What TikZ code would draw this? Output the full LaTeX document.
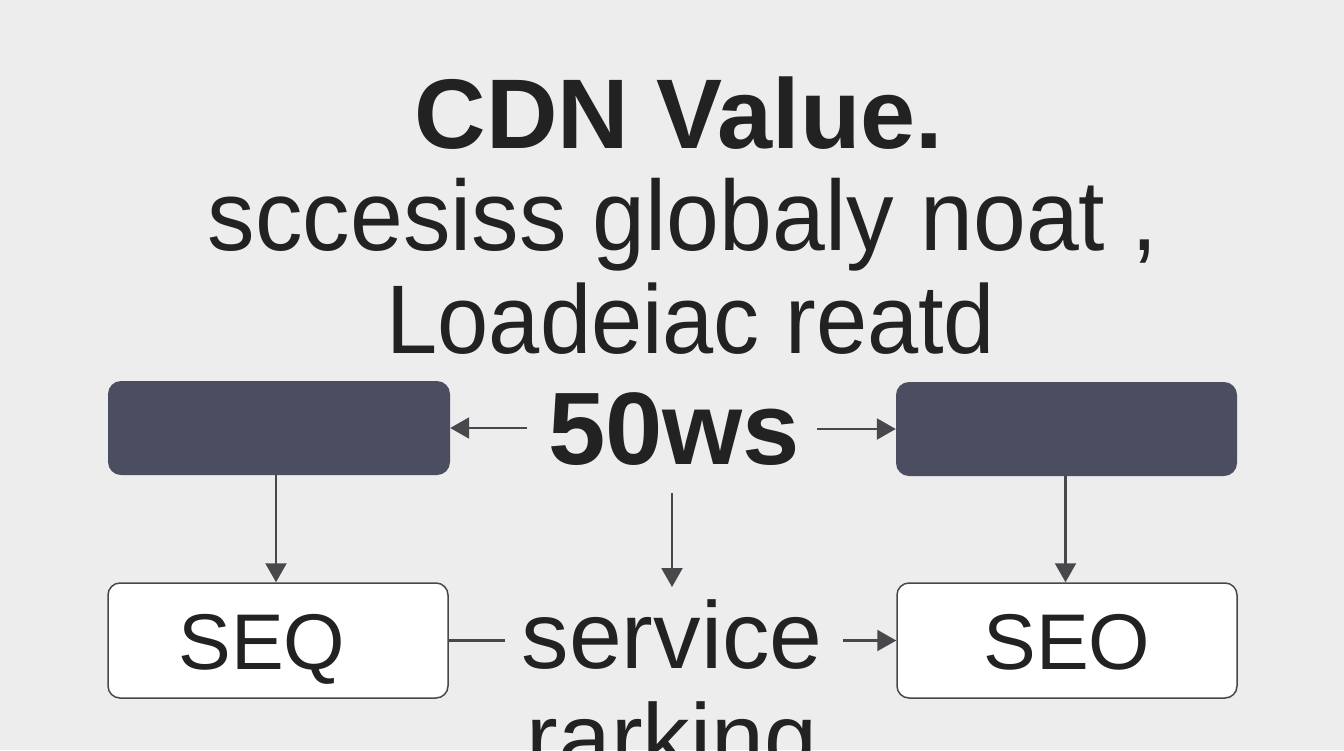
\documentclass[tikz,border=0pt]{standalone}
\usepackage{fontspec}
\setmainfont{Liberation Sans}
\usetikzlibrary{arrows.meta}
\definecolor{bg}{HTML}{EDEDED}
\definecolor{darkfill}{HTML}{4B4D61}
\definecolor{ink}{HTML}{222222}
\definecolor{linec}{HTML}{48484C}
\begin{document}
\begin{tikzpicture}[x=1pt,y=-1pt,
  txt/.style={inner sep=0pt, anchor=base, text=ink},
  darkbox/.style={draw=none, fill=darkfill, rounded corners=13pt, minimum width=342pt, minimum height=94pt, inner sep=0pt},
  wbox/.style={draw=linec, line width=1.5pt, fill=white, rounded corners=12pt, minimum width=340pt, minimum height=115pt, inner sep=0pt, text=ink, text height=57pt, text depth=0pt, font=\fontsize{79}{90}\selectfont},
  conn/.style={draw=linec, line width=2.2pt},
  arr/.style={conn, -{Triangle[length=19pt,width=21pt]}}
]
\fill[bg] (0,0) rectangle (1344,750);
\useasboundingbox (0,0) rectangle (1344,750);

% text lines
\node[txt, font=\bfseries\fontsize{99}{110}\selectfont] (title) at (679,148) {CDN Value.};
\node[txt, font=\fontsize{95}{110}\selectfont] (l2) at (683,250) {\scalebox{1}[1.05]{sccesiss globaly noat ,}};
\node[txt, font=\fontsize{92}{110}\selectfont] (l3) at (691,353) {\scalebox{1}[1.06]{Loadeiac reatd}};
\node[txt, font=\bfseries\fontsize{103}{110}\selectfont] (num) at (674,464) {50ws};
\node[txt, font=\fontsize{95}{110}\selectfont] (serv) at (672,668) {service};
\node[txt, font=\fontsize{95}{110}\selectfont] (rank) at (672,770) {rarking};

% boxes
\node[darkbox] (dl) at (279,428) {};
\node[darkbox, minimum width=341pt] (dr) at (1066.5,429) {};
\node[wbox] (sl) at (278,640.5) {\hspace*{-32pt}SEQ};
\node[wbox] (sr) at (1067,640.5) {SEO};

% free ends
\coordinate (cl) at (527,428);
\coordinate (cr) at (817,429);
\coordinate (mt) at (672,493);
\coordinate (mb) at (672,587);
\coordinate (bl) at (505,640.5);
\coordinate (br) at (843,640.5);

% connectors
\draw[arr] (cl) -- (dl.east);
\draw[arr] (cr) -- (dr.west);
\draw[arr] ([xshift=-3pt]dl.south) -- ([xshift=-3pt]dl.south |- sl.north);
\draw[arr] ([xshift=-1pt]dr.south) -- ([xshift=-1pt]dr.south |- sr.north);
\draw[arr] (mt) -- (mb);
\draw[conn] (sl.east) -- (bl);
\draw[arr] (br) -- (sr.west);
\end{tikzpicture}
\end{document}
